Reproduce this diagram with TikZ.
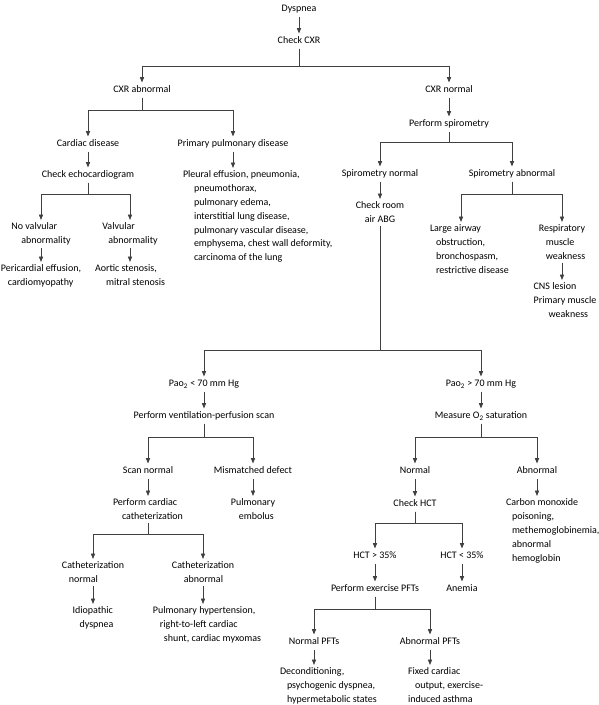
\documentclass[tikz,border=0pt]{standalone}
\usepackage{fontspec}
\setmainfont{Carlito}
\usetikzlibrary{arrows.meta}
\tikzset{
  s/.style={font=\fontsize{10}{13.8}\selectfont, inner sep=0pt, outer sep=3pt, text height=7pt, text depth=2pt},
  m/.style={font=\fontsize{10}{13.8}\selectfont, inner sep=0pt, outer sep=3pt, align=left, anchor=north},
  mw/.style={m, anchor=north west},
  ln/.style={draw=black!75, line width=0.8pt},
  ar/.style={ln, -{Triangle[length=5.5pt,width=4.2pt]}},
}
\begin{document}
\begin{tikzpicture}[x=1pt,y=-1pt]
\useasboundingbox (0,0) rectangle (598,705);
% top
\node[s] (dys) at (299,9) {Dyspnea};
\node[s] (cxr) at (299,41) {Check CXR};
\node[s] (cxrab) at (142,90) {CXR abnormal};
\node[s] (cxrn) at (449,90) {CXR normal};
% left upper
\node[s] (card) at (88,144) {Cardiac disease};
\node[s] (prim) at (233,144) {Primary pulmonary disease};
\node[s] (echo) at (88,175) {Check echocardiogram};
\node[m] (novalv) at (41,220) {No valvular\\\hspace{10pt}abnormality};
\node[m] (valv) at (130,220) {Valvular\\\hspace{6pt}abnormality};
\node[m] (peri) at (41,262) {Pericardial effusion,\\\hspace{7pt}cardiomyopathy};
\node[m] (aort) at (130,262) {Aortic stenosis,\\\hspace{11pt}mitral stenosis};
\node[mw] (pleu) at (180,168) {Pleural effusion, pneumonia,\\\hspace{11pt}pneumothorax,\\\hspace{11pt}pulmonary edema,\\\hspace{11pt}interstitial lung disease,\\\hspace{11pt}pulmonary vascular disease,\\\hspace{11pt}emphysema, chest wall deformity,\\\hspace{11pt}carcinoma of the lung};
% right upper
\node[s] (spiro) at (449,124) {Perform spirometry};
\node[s] (spn) at (380,174) {Spirometry normal};
\node[s] (spa) at (512,174) {Spirometry abnormal};
\node[m, align=center] (abg) at (380,199) {Check room\\air ABG};
\node[mw] (large) at (427,222) {Large airway\\\hspace{6pt}obstruction,\\\hspace{6pt}bronchospasm,\\\hspace{6pt}restrictive disease};
\coordinate (largein) at (461,222);
\node[m] (resp) at (562,222) {Respiratory\\\hspace{7pt}muscle\\\hspace{7pt}weakness};
\node[m] (cns) at (565,280) {CNS lesion\\Primary muscle\\\hspace{15pt}weakness};
% middle
\node[s] (pao1) at (204,384) {Pao\textsubscript{2} < 70 mm Hg};
\node[s] (vq) at (204,416) {Perform ventilation-perfusion scan};
\node[s] (scan) at (148,471) {Scan normal};
\node[s] (mism) at (253,471) {Mismatched defect};
\node[m] (cath) at (148,496) {Perform cardiac\\\hspace{9pt}catheterization};
\node[m] (pe) at (253,496) {Pulmonary\\\hspace{8pt}embolus};
\node[m] (cathn) at (93,559) {Catheterization\\\hspace{7pt}normal};
\node[m] (catha) at (203,559) {Catheterization\\\hspace{12pt}abnormal};
\node[m] (idio) at (93,604) {Idiopathic\\\hspace{7pt}dyspnea};
\node[m] (pht) at (207,604) {Pulmonary hypertension,\\\hspace{7pt}right-to-left cardiac\\\hspace{11pt}shunt, cardiac myxomas};
% right lower
\node[s] (pao2) at (481,384) {Pao\textsubscript{2} > 70 mm Hg};
\node[s] (o2) at (481,416) {Measure O\textsubscript{2} saturation};
\node[s] (norm) at (415,471) {Normal};
\node[s] (abn) at (537,471) {Abnormal};
\node[s] (hct) at (415,504) {Check HCT};
\node[mw] (co) at (503,496) {Carbon monoxide\\\hspace{6pt}poisoning,\\\hspace{6pt}methemoglobinemia,\\\hspace{6pt}abnormal\\\hspace{6pt}hemoglobin};
\node[s] (hcthi) at (375,556) {HCT > 35\%};
\node[s] (hctlo) at (462,556) {HCT < 35\%};
\node[s] (pft) at (375,589) {Perform exercise PFTs};
\node[s] (anem) at (462,589) {Anemia};
\node[s] (npft) at (314,642) {Normal PFTs};
\node[s] (apft) at (430,642) {Abnormal PFTs};
\node[mw] (decon) at (277,665) {Deconditioning,\\\hspace{7pt}psychogenic dyspnea,\\\hspace{7pt}hypermetabolic states};
\node[mw] (fixed) at (405,665) {Fixed cardiac\\\hspace{7pt}output, exercise-\\induced asthma};

% branching connectors
\draw[ar] (cxr.south) -- (cxr.south |- 0,66) -| (cxrab.north);
\draw[ar] (cxr.south) -- (cxr.south |- 0,66) -| (cxrn.north);
\draw[ar] (cxrab.south) -- (cxrab.south |- 0,110) -| (card.north);
\draw[ar] (cxrab.south) -- (cxrab.south |- 0,110) -| (prim.north);
\draw[ar] (echo.south) -- (echo.south |- 0,194) -| (novalv.north);
\draw[ar] (echo.south) -- (echo.south |- 0,194) -| (valv.north);
\draw[ar] (spiro.south) -- (spiro.south |- 0,142) -| (spn.north);
\draw[ar] (spiro.south) -- (spiro.south |- 0,142) -| (spa.north);
\draw[ar] (spa.south) -- (spa.south |- 0,194) -| (largein);
\draw[ar] (spa.south) -- (spa.south |- 0,194) -| (resp.north);
\draw[ar] (abg.south) -- (abg.south |- 0,350) -| (pao1.north);
\draw[ar] (abg.south) -- (abg.south |- 0,350) -| (pao2.north);
\draw[ar] (vq.south) -- (vq.south |- 0,437) -| (scan.north);
\draw[ar] (vq.south) -- (vq.south |- 0,437) -| (mism.north);
\draw[ar] (o2.south) -- (o2.south |- 0,437) -| (norm.north);
\draw[ar] (o2.south) -- (o2.south |- 0,437) -| (abn.north);
\draw[ar] (cath.south) -- (cath.south |- 0,534) -| (cathn.north);
\draw[ar] (cath.south) -- (cath.south |- 0,534) -| (catha.north);
\draw[ar] (hct.south) -- (hct.south |- 0,523) -| (hcthi.north);
\draw[ar] (hct.south) -- (hct.south |- 0,523) -| (hctlo.north);
\draw[ar] (pft.south) -- (pft.south |- 0,609) -| (npft.north);
\draw[ar] (pft.south) -- (pft.south |- 0,609) -| (apft.north);
% straight connectors
\foreach \a/\b in {dys/cxr, cxrn/spiro, card/echo, prim/pleu, novalv/peri, valv/aort, spn/abg, resp/cns,
  pao1/vq, scan/cath, mism/pe, cathn/idio, catha/pht, pao2/o2, norm/hct, abn/co, hcthi/pft, hctlo/anem,
  npft/decon, apft/fixed}
  \draw[ar] (\a.south) -- (\a.south |- \b.north);
\end{tikzpicture}
\end{document}
